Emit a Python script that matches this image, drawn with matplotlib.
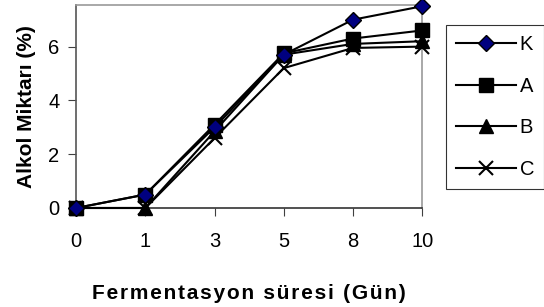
# Alkol miktari vs fermentasyon suresi, line chart with categorical x axis
import matplotlib
matplotlib.use('Agg')
import matplotlib.pyplot as plt

plt.rcParams['font.family'] = ['Liberation Sans', 'DejaVu Sans']

days = ['0', '1', '3', '5', '8', '10']
k_vals = [0, 0.5, 3.0, 5.7, 7.0, 7.5]
a_vals = [0, 0.5, 3.1, 5.75, 6.3, 6.6]
b_vals = [0, 0.0, 2.85, 5.7, 6.1, 6.2]
c_vals = [0, 0.0, 2.6, 5.2, 5.95, 6.0]

x_title = 'Fermentasyon süresi (Gün)'
y_title = 'Alkol Miktarı (%)'

fig = plt.figure(figsize=(5.44, 3.07), dpi=100)
ax = fig.add_axes([0.140, 0.3225, 0.636, 0.6615])

x = range(len(days))
ax.plot(x, k_vals, color='black', lw=1.5, marker='D', ms=8,
        mfc='#000080', mec='black', mew=1, label='K', clip_on=False, zorder=5)
ax.plot(x, a_vals, color='black', lw=1.5, marker='s', ms=10,
        mfc='black', mec='black', label='A', clip_on=False, zorder=4)
ax.plot(x, b_vals, color='black', lw=1.5, marker='^', ms=10,
        mfc='black', mec='black', label='B', clip_on=False, zorder=3)
ax.plot(x, c_vals, color='black', lw=1.5, marker='x', ms=10, mew=1.5,
        mfc='black', mec='black', label='C', clip_on=False, zorder=2)

ax.set_xlim(0, len(days) - 1)
ax.set_ylim(0, 7.55)
ax.set_xticks(list(x))
ax.set_xticklabels(days)
ax.set_yticks([0, 2, 4, 6])
ax.tick_params(labelsize=14.5, direction='out', length=6, color='#404040')
ax.tick_params(axis='x', pad=11)
ax.tick_params(axis='y', pad=6)

for side in ['top', 'right']:
    ax.spines[side].set_color('#999999')
ax.spines['left'].set_color('#555555')
ax.spines['bottom'].set_color('#333333')
for s in ax.spines.values():
    s.set_linewidth(1.2)

# the original title is letter-spaced, hair spaces between the letters
ax.set_xlabel('\u200a'.join(x_title), fontsize=15,
              fontweight='bold', labelpad=24)
ax.set_ylabel(y_title, fontsize=15, fontweight='bold', labelpad=9)

leg = ax.legend(loc='upper left', bbox_to_anchor=(1.07, 0.9), fontsize=14.5,
                frameon=True, fancybox=False, edgecolor='black',
                handlelength=2.95, labelspacing=1.12, borderpad=0.5,
                handletextpad=0.2, borderaxespad=0)
leg.get_frame().set_linewidth(0.8)

fig.savefig('out.png', dpi=100)
